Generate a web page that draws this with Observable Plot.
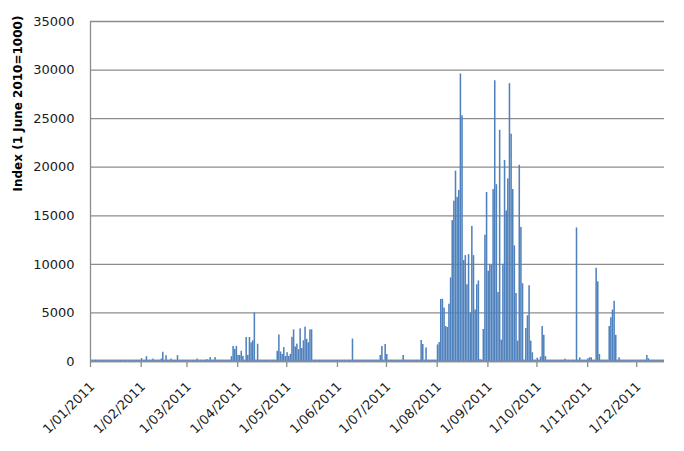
<!DOCTYPE html>
<html>
<head>
<meta charset="utf-8">
<script src="https://cdn.jsdelivr.net/npm/d3@7"></script>
<script src="https://cdn.jsdelivr.net/npm/@observablehq/plot@0.6"></script>
<style>
  html, body { margin: 0; padding: 0; background: #ffffff; }
  #chart svg { display: block; }
</style>
</head>
<body>
<div id="chart"></div>
<script>
// Daily index values, 2011, one array per month (day 1 .. last day shown)
const jan = [150,150,150,150,150,150,150,150,150,150,
             150,150,150,150,150,150,150,150,150,150,
             150,150,150,150,150,150,150,150,150,150,
             150];
const feb = [300,150,150,500,150,150,150,250,150,150,
             150,150,250,950,150,600,150,150,250,150,
             150,150,600,150,150,150,150,150];
const mar = [150,150,150,150,150,150,250,150,150,150,
             150,150,200,150,400,150,150,400,150,150,
             150,150,150,150,150,150,150,500,1550,1250,
             1550];
const apr = [630,630,1050,525,150,2480,630,2480,1920,2130,
             5000,150,1780,150,150,150,150,150,150,150,
             150,150,150,150,1050,2730,980,730,1430,520];
const may = [910,525,735,2485,3255,1505,1785,1225,3360,1330,
             2135,3535,2275,1925,3255,3255,150,150,150,150,
             150,150,150,150,150,150,150,150,150,150,
             150];
const jun = [150,150,150,150,150,150,150,150,150,2310,
             150,150,150,150,150,150,150,150,150,150,
             150,150,150,150,150,150,620,1545,150,1750];
const jul = [720,150,150,150,150,150,150,150,150,150,
             620,150,150,150,150,150,150,150,150,150,
             150,2160,1750,150,1400,150,150,150,150,150,
             150];
const aug = [1700,1950,6400,6400,5500,3600,3500,5900,8600,14500,
             16500,19600,16900,17600,29600,25300,10400,10900,7900,11000,
             5000,13900,10900,5300,7900,8300,200,150,3300,13000,
             17400];
const sep = [9300,9900,9900,17700,28900,18200,7100,23800,2200,10000,
             20700,15500,18800,28600,23400,17700,11900,7000,2100,20200,
             13800,8000,150,3400,4700,7800,2100,900,150,150];
const oct = [340,150,450,3600,2700,500,150,150,150,150,
             150,150,150,150,150,150,150,240,150,150,
             150,150,150,150,13750,150,380,150,150,150,
             150];
const nov = [280,380,380,150,150,9600,8200,720,150,150,
             150,150,150,3600,4500,5300,6200,2700,150,380,
             150,150,150,150,150,150,150,150,150,150];
const dec = [150,150,150,150,150,150,620,280,150,150,
             150,150,150,150,150,150,150];

const monthValues = [jan, feb, mar, apr, may, jun, jul, aug, sep, oct, nov, dec];

const tickDates = ["2011-01-01","2011-02-01","2011-03-01","2011-04-01","2011-05-01","2011-06-01",
                   "2011-07-01","2011-08-01","2011-09-01","2011-10-01","2011-11-01","2011-12-01"];
const tickLabels = ["1/01/2011","1/02/2011","1/03/2011","1/04/2011","1/05/2011","1/06/2011",
                    "1/07/2011","1/08/2011","1/09/2011","1/10/2011","1/11/2011","1/12/2011"];
const yTicks = [0, 5000, 10000, 15000, 20000, 25000, 30000, 35000];
const yLabel = "Index (1 June 2010=1000)";
const xStart = "2011-01-01";
const xEnd = "2011-12-18";

// Build table
const data = [];
monthValues.forEach((vals, m) => {
  vals.forEach((v, i) => {
    const date = new Date(Date.UTC(2011, m, i + 1));
    data.push({date, next: d3.utcDay.offset(date, 1), value: v});
  });
});
const ticks = tickDates.map(s => new Date(s + "T00:00:00Z"));
const tickRows = ticks.map((d, i) => ({date: d, label: tickLabels[i]}));
const gridCol = "#8c8c8c";

const chart = Plot.plot({
  width: 684,
  height: 451,
  marginLeft: 90,
  marginRight: 20,
  marginTop: 21,
  marginBottom: 90,
  style: {fontFamily: "'DejaVu Sans', Verdana, sans-serif", fontSize: "13px", color: "#1a1a1a", background: "#ffffff"},
  x: {type: "utc", domain: [new Date(xStart + "T00:00:00Z"), new Date(xEnd + "T00:00:00Z")], label: null},
  y: {domain: [0, 35000], label: null},
  marks: [
    Plot.gridY(yTicks, {stroke: gridCol, strokeOpacity: 1, strokeWidth: 1.3}),
    Plot.rectY(data, {x1: "date", x2: "next", y: "value", fill: "#4f81bd", insetLeft: 0.05, insetRight: 0.05}),
    Plot.ruleY([0], {stroke: gridCol, strokeWidth: 1.3}),
    Plot.ruleX([new Date(xStart + "T00:00:00Z")], {stroke: gridCol, strokeWidth: 1.3}),
    Plot.axisX(ticks, {tickSize: 6, tickFormat: () => "", stroke: gridCol, strokeWidth: 1.3}),
    Plot.text(tickRows, {x: "date", text: "label", frameAnchor: "bottom", dx: 2, dy: 23, rotate: -45,
                         textAnchor: "end", lineAnchor: "middle", fontSize: 13, fill: "#1a1a1a"}),
    Plot.axisY(yTicks, {tickSize: 0, tickPadding: 16, tickFormat: d => String(d), fontSize: 13, fill: "#1a1a1a"}),
    Plot.text([yLabel], {text: d => d, frameAnchor: "left", dx: -72, rotate: -90,
                         fontWeight: "bold", fontSize: 12, fill: "#000"})
  ]
});
document.getElementById("chart").appendChild(chart);
</script>
</body>
</html>
